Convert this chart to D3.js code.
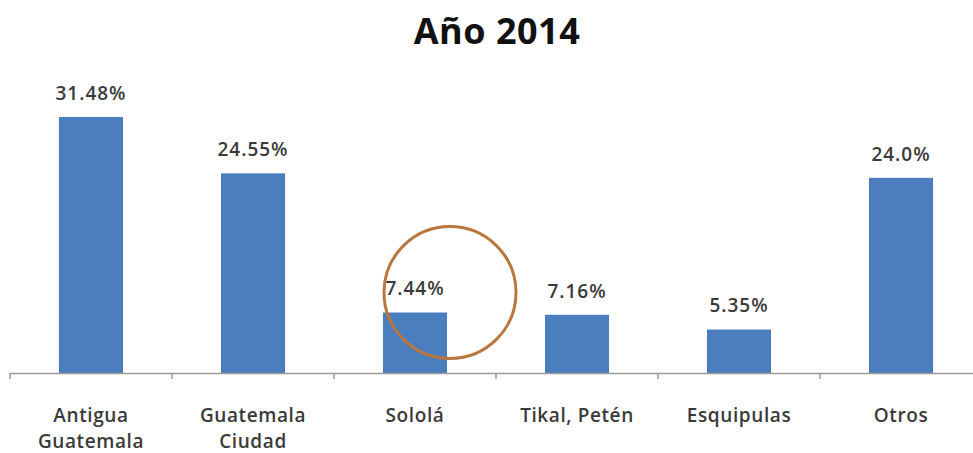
<!DOCTYPE html>
<html>
<head>
<meta charset="utf-8">
<script src="https://cdn.jsdelivr.net/npm/d3@7"></script>
<style>
body { margin: 0; background: #fff; }
</style>
</head>
<body>
<svg width="973" height="453"></svg>
<script>
var titleText = "Año 2014";
var categories = ["Antigua\nGuatemala", "Guatemala\nCiudad", "Sololá", "Tikal, Petén", "Esquipulas", "Otros"];
var values = [31.48, 24.55, 7.44, 7.16, 5.35, 24.0];
var valueLabels = ["31.48%", "24.55%", "7.44%", "7.16%", "5.35%", "24.0%"];
var highlighted = "Sololá";

var data = categories.map(function(c, i){
	return {cat: c, value: values[i], label: valueLabels[i]};
});

drawChart();

function drawChart(){
	var margin = {top: 0, right: 0, bottom: 80, left: 10};
	var width = 972, height = 373;

	var svg = d3.select("svg");

	var x = d3.scaleBand()
		.domain(categories)
		.range([margin.left, width + margin.left])
		.paddingInner(0.605)
		.paddingOuter(0.3025);
	var y = d3.scaleLinear()
		.domain([0, 31.48])
		.range([height, 117]);

	svg.append("text")
		.attr("x", 497)
		.attr("y", 44)
		.attr("text-anchor", "middle")
		.style("font-family", "'Open Sans', sans-serif")
		.style("font-weight", "bold")
		.style("font-size", "36px")
		.style("letter-spacing", "0.5px")
		.style("fill", "#111")
		.text(titleText);

	svg.selectAll(".bar").data(data).enter().append("rect")
		.attr("class", "bar")
		.attr("x", function(d){return x(d.cat);})
		.attr("y", function(d){return y(d.value);})
		.attr("width", x.bandwidth())
		.attr("height", function(d){return height - y(d.value);})
		.attr("fill", "#4a7ebf");

	svg.selectAll(".vlabel").data(data).enter().append("text")
		.attr("class", "vlabel")
		.attr("x", function(d){return x(d.cat) + x.bandwidth()/2;})
		.attr("y", function(d){return y(d.value) - 17;})
		.attr("text-anchor", "middle")
		.style("font-family", "'Open Sans', sans-serif")
		.style("font-size", "19px")
		.style("font-weight", "600")
		.style("letter-spacing", "1px")
		.style("fill", "#3a3a3a")
		.text(function(d){return d.label;});

	// axis line + ticks at category boundaries
	svg.append("line")
		.attr("x1", margin.left).attr("x2", 973)
		.attr("y1", height + 0.5).attr("y2", height + 0.5)
		.attr("stroke", "#9a9a9a")
		.attr("stroke-width", 1.5);

	var bounds = categories.map(function(c){return x(c) - x.step()*x.paddingOuter();});
	svg.selectAll(".tick").data(bounds).enter().append("line")
		.attr("class", "tick")
		.attr("x1", function(d){return d;}).attr("x2", function(d){return d;})
		.attr("y1", height).attr("y2", height + 6)
		.attr("stroke", "#9a9a9a")
		.attr("stroke-width", 1.5);

	var cl = svg.selectAll(".clabel").data(categories).enter().append("text")
		.attr("class", "clabel")
		.attr("x", function(d){return x(d) + x.bandwidth()/2;})
		.attr("y", 422)
		.attr("text-anchor", "middle")
		.style("font-family", "'Open Sans', sans-serif")
		.style("font-size", "19px")
		.style("font-weight", "600")
		.style("letter-spacing", "0.6px")
		.style("fill", "#3a3a3a");
	cl.selectAll("tspan").data(function(d){return d.split("\n");}).enter().append("tspan")
		.attr("x", function(){return d3.select(this.parentNode).attr("x");})
		.attr("dy", function(d, i){return i == 0 ? 0 : 26;})
		.text(function(d){return d;});

	// annotation circle around the Sololá label
	svg.append("circle")
		.attr("cx", x(highlighted) + x.bandwidth() + 3)
		.attr("cy", y(7.44) - 20)
		.attr("r", 66)
		.attr("fill", "none")
		.attr("stroke", "#b9773e")
		.attr("stroke-width", 3);
}
</script>
</body>
</html>
